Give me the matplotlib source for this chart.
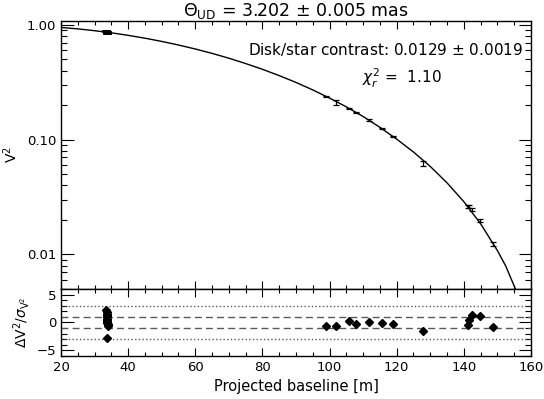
import numpy as np
import matplotlib
matplotlib.use("Agg")
import matplotlib.pyplot as plt
from matplotlib.ticker import FixedLocator, MultipleLocator, FuncFormatter, LogLocator, NullFormatter

plt.rcParams['font.family'] = ['DejaVu Sans']
plt.rcParams['mathtext.fontset'] = 'dejavusans'

# uniform-disk model curve
model_b = [20, 25, 30, 35, 40, 45, 50, 55, 60, 65, 70, 75, 80, 85, 90, 95, 100,
           105, 110, 115, 120, 125, 130, 135, 140, 145, 150, 152.5, 155, 157]
model_v2 = [0.949, 0.922, 0.889, 0.852, 0.810, 0.765, 0.717, 0.667, 0.616, 0.564,
            0.512, 0.460, 0.410, 0.361, 0.315, 0.271, 0.230, 0.193, 0.159, 0.128,
            0.101, 0.078, 0.0584, 0.0420, 0.0288, 0.0185, 0.0108, 0.0079, 0.0053, 0.0038]

# measured squared visibilities
short_b = [33.5, 33.6, 33.6, 33.7, 33.7, 33.7, 33.7, 33.8, 33.8, 33.8, 33.8, 33.9, 33.9, 33.9, 33.7]
short_v2 = [0.878, 0.876, 0.873, 0.870, 0.868, 0.866, 0.865, 0.863, 0.862, 0.860,
            0.858, 0.856, 0.854, 0.852, 0.848]
short_err = [0.014] * 15
short_res = [2.2, 1.9, 1.6, 1.3, 1.1, 0.9, 0.7, 0.5, 0.3, 0.1, -0.1, -0.3, -0.5, -0.7, -2.8]

long_b = [98.9, 101.8, 105.8, 107.9, 111.8, 115.5, 118.9, 127.8, 141.1, 141.4, 142.5, 144.8, 148.7]
long_v2 = [0.237, 0.210, 0.188, 0.1727, 0.148, 0.125, 0.1064, 0.0625, 0.0261, 0.0263,
           0.0247, 0.0197, 0.0124]
long_err = [0.003, 0.010, 0.002, 0.002, 0.002, 0.002, 0.0015, 0.003, 0.0008, 0.0008,
            0.0008, 0.0007, 0.0005]
long_res = [-0.68, -0.68, 0.33, -0.33, 0.03, -0.15, -0.33, -1.6, -0.45, 0.5, 1.28, 1.22, -0.86]

fig = plt.figure(figsize=(5.44, 3.99), dpi=100)
ax1 = fig.add_axes([0.1121, 0.2757, 0.864, 0.6717])
ax2 = fig.add_axes([0.1121, 0.1078, 0.864, 0.1679], sharex=ax1)

# top panel
ax1.plot(model_b, model_v2, color='black', lw=1)
ax1.errorbar(short_b, short_v2, yerr=short_err,
             fmt='none', ecolor='black', elinewidth=1.2, capsize=2.6, capthick=1.2)
ax1.errorbar(long_b, long_v2, yerr=long_err,
             fmt='none', ecolor='black', elinewidth=0.9, capsize=2.2, capthick=0.9)
ax1.set_yscale('log')
ax1.set_xlim(20, 160)
ax1.set_ylim(0.005, 1.08)
ax1.yaxis.set_major_locator(FixedLocator([0.01, 0.1, 1.0]))
ax1.yaxis.set_major_formatter(FuncFormatter(lambda v, p: f"{v:.2f}"))
ax1.yaxis.set_minor_locator(LogLocator(base=10, subs=np.arange(2, 10)))
ax1.yaxis.set_minor_formatter(NullFormatter())
ax1.set_ylabel('V$^2$', fontsize=10, va='center')
ax1.yaxis.set_label_coords(-0.108, 0.5)
ax1.set_title(r'$\Theta_{\rm UD}$ = 3.202 $\pm$ 0.005 mas', fontsize=12.5, pad=2)
ax1.text(0.983, 0.892, r'Disk/star contrast: 0.0129 $\pm$ 0.0019', transform=ax1.transAxes,
         ha='right', va='center', fontsize=11)
ax1.text(0.64, 0.785, r'$\chi_r^2$ =  1.10', transform=ax1.transAxes,
         ha='left', va='center', fontsize=11)
plt.setp(ax1.get_xticklabels(), visible=False)

# residual panel
for lev, ls in [(3, ':'), (1, (0, (5, 3))), (-1, (0, (5, 3))), (-3, ':')]:
    ax2.axhline(lev, color='0.35', lw=1, ls=ls)
ax2.plot(short_b + long_b, short_res + long_res, 'D', color='black', ms=4.2)
ax2.set_ylim(-6, 6)
ax2.yaxis.set_major_locator(FixedLocator([-5, 0, 5]))
ax2.yaxis.set_minor_locator(MultipleLocator(1))
ax2.xaxis.set_major_locator(MultipleLocator(20))
ax2.xaxis.set_minor_locator(MultipleLocator(5))
ax2.set_xlabel('Projected baseline [m]', fontsize=10.5, labelpad=4)
ax2.set_ylabel(r'$\Delta$V$^2$/$\sigma_{\rm V^2}$', fontsize=10, va='center')
ax2.yaxis.set_label_coords(-0.085, 0.5)

for ax in (ax1, ax2):
    ax.tick_params(which='both', direction='in', top=True, right=True, labelsize=9.5, width=0.8)
    ax.tick_params(axis='x', which='major', length=6)
    ax.tick_params(axis='x', which='minor', length=3)
    ax.tick_params(axis='y', which='major', length=9)
    ax.tick_params(axis='y', which='minor', length=4.5)
    for s in ax.spines.values():
        s.set_linewidth(1)

fig.savefig('out.png', dpi=100)
